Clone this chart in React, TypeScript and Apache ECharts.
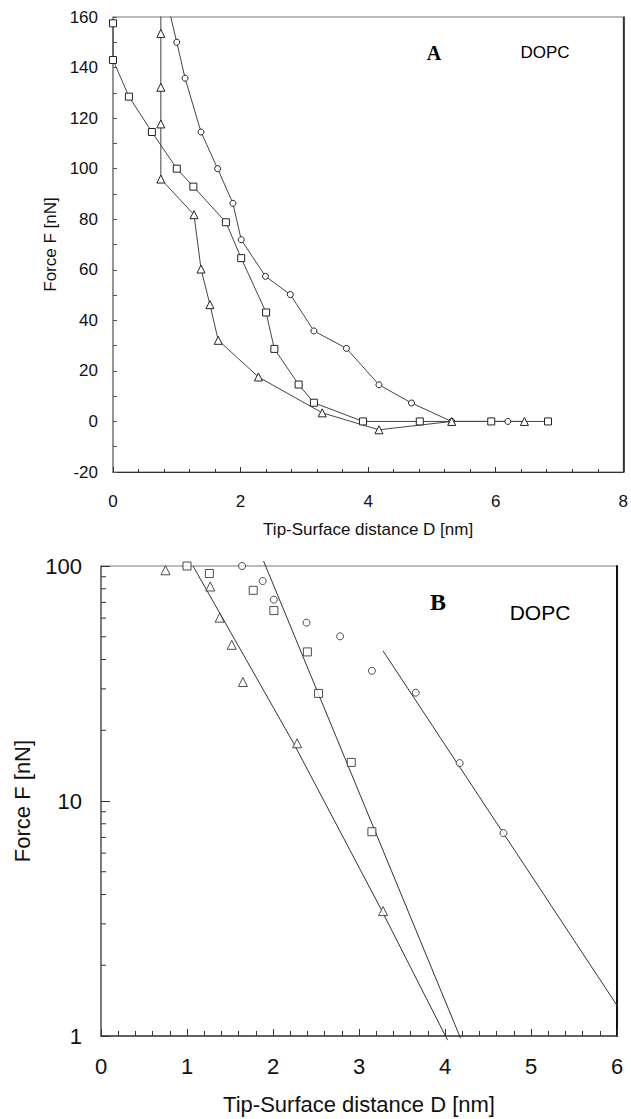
import React, { useEffect, useRef } from "react";
import * as echarts from "echarts";

// ---- Data ----
// Panel A: Force F [nN] vs tip-surface distance D [nm]
const squaresD = [0, 0, 0.25, 0.61, 1.0, 1.26, 1.77, 2.01, 2.4, 2.53, 2.91, 3.15, 3.92, 4.81, 5.93, 6.82];
const squaresF = [157.5, 143, 128.5, 114.5, 100, 92.9, 78.8, 64.6, 43.1, 28.7, 14.6, 7.4, 0, 0, 0, 0];

const circlesD = [0.84, 1.0, 1.13, 1.38, 1.64, 1.88, 2.01, 2.39, 2.78, 3.15, 3.66, 4.17, 4.68, 5.31, 6.19];
const circlesF = [167, 150, 135.8, 114.5, 100, 86.3, 71.9, 57.4, 50.2, 35.8, 28.9, 14.5, 7.3, 0, 0];

const trianglesD = [0.75, 0.75, 0.75, 0.75, 0.75, 1.27, 1.38, 1.52, 1.65, 2.28, 3.28, 4.17, 5.31, 6.45];
const trianglesF = [170, 153.5, 132.2, 117.7, 95.9, 81.8, 60.3, 46.2, 32.1, 17.6, 3.4, -3.3, 0, 0];

// Panel B: exponential fits (straight lines on the log scale)
const fitTriangleD = [1.07, 2.24, 3.25, 4.03];
const fitTriangleF = [100, 17.6, 3.5, 0.96];
const fitSquareD = [1.89, 4.18];
const fitSquareF = [105, 0.98];
const fitCircleD = [3.28, 6.06];
const fitCircleF = [43.5, 1.25];

// Log axis minor tick values
const logMinorTicks = [2, 3, 4, 5, 6, 7, 8, 9, 20, 30, 40, 50, 60, 70, 80, 90];

const SANS = "'Liberation Sans', Arial, Helvetica, sans-serif";
const SERIF = "'Liberation Serif', 'Times New Roman', serif";
const LINE = "#444";
const MARK = "#222";

const zip = (xs: number[], ys: number[]) => xs.map((x, i) => [x, ys[i]]);
const inLogRange = (pts: number[][]) => pts.filter((p) => p[1] > 0 && p[1] <= 100);

export default function App() {
  const ref = useRef<HTMLDivElement>(null);

  useEffect(() => {
    if (!ref.current) return;
    const chart = echarts.init(ref.current, null, { renderer: "svg" });

    const markerStyle = { color: "#fff", borderColor: MARK, borderWidth: 1 };

    const topLine = (name: string, data: number[][], symbol: string, size: number) => ({
      name,
      type: "line",
      xAxisIndex: 0,
      yAxisIndex: 0,
      data,
      symbol,
      symbolSize: size,
      showAllSymbol: true,
      clip: true,
      lineStyle: { color: LINE, width: 1 },
      itemStyle: markerStyle,
      z: 3,
    });

    const botScatter = (name: string, data: number[][], symbol: string, size: number) => ({
      name,
      type: "scatter",
      xAxisIndex: 1,
      yAxisIndex: 1,
      data,
      symbol,
      symbolSize: size,
      clip: false,
      itemStyle: markerStyle,
      z: 4,
    });

    const fitLine = (name: string, data: number[][]) => ({
      name,
      type: "line",
      xAxisIndex: 1,
      yAxisIndex: 1,
      data,
      symbol: "none",
      clip: false,
      lineStyle: { color: "#333", width: 1 },
      z: 3,
    });

    const option: any = {
      animation: false,
      backgroundColor: "#fff",
      grid: [
        { left: 113, top: 17, width: 513, height: 455, show: true, borderColor: "#777", borderWidth: 1 },
        { left: 101, top: 566, width: 516, height: 470, show: true, borderColor: "#777", borderWidth: 1 },
      ],
      xAxis: [
        {
          gridIndex: 0,
          type: "value",
          min: 0,
          max: 8,
          interval: 2,
          axisLine: { show: true, onZero: false, lineStyle: { color: "#333", width: 1 } },
          axisTick: { show: true, inside: true, length: 5, lineStyle: { color: "#333" } },
          minorTick: { show: true, splitNumber: 5, length: 3, lineStyle: { color: "#333" } },
          splitLine: { show: false },
          axisLabel: { margin: 21, fontSize: 17, color: "#111", fontFamily: SANS },
          name: "Tip-Surface distance D [nm]",
          nameLocation: "middle",
          nameGap: 49,
          nameTextStyle: { fontSize: 17, color: "#111", fontFamily: SANS },
        },
        {
          gridIndex: 1,
          type: "value",
          min: 0,
          max: 6,
          interval: 1,
          axisLine: { show: true, onZero: false, lineStyle: { color: "#444", width: 1.5 } },
          axisTick: { show: true, inside: true, length: 7, lineStyle: { color: "#333" } },
          minorTick: { show: true, splitNumber: 5, length: 5, lineStyle: { color: "#333" } },
          splitLine: { show: false },
          axisLabel: { margin: 19, fontSize: 22, color: "#111", fontFamily: SANS },
          name: "Tip-Surface distance D [nm]",
          nameLocation: "middle",
          nameGap: 57,
          nameTextStyle: { fontSize: 22, color: "#111", fontFamily: SANS },
        },
      ],
      yAxis: [
        {
          gridIndex: 0,
          type: "value",
          min: -20,
          max: 160,
          interval: 20,
          axisLine: { show: true, onZero: false, lineStyle: { color: "#888", width: 1.5 } },
          axisTick: { show: true, inside: true, length: 4, lineStyle: { color: "#555" } },
          minorTick: { show: true, splitNumber: 2, length: 4, lineStyle: { color: "#555" } },
          splitLine: { show: false },
          axisLabel: { margin: 15, fontSize: 17, color: "#111", fontFamily: SANS },
          name: "Force F [nN]",
          nameLocation: "middle",
          nameRotate: 90,
          nameGap: 52,
          nameTextStyle: { fontSize: 17, color: "#111", fontFamily: SANS },
        },
        {
          gridIndex: 1,
          type: "log",
          logBase: 10,
          min: 1,
          max: 100,
          axisLine: { show: true, onZero: false, lineStyle: { color: "#666", width: 1.5 } },
          axisTick: { show: true, inside: true, length: 9, lineStyle: { color: "#333" } },
          splitLine: { show: false },
          axisLabel: { margin: 19, fontSize: 22, color: "#111", fontFamily: SANS },
          name: "Force F [nN]",
          nameLocation: "middle",
          nameRotate: 90,
          nameGap: 68,
          nameTextStyle: { fontSize: 22, color: "#111", fontFamily: SANS },
        },
        {
          gridIndex: 0,
          type: "value",
          position: "right",
          min: -20,
          max: 160,
          interval: 20,
          axisLine: { show: true, onZero: false, lineStyle: { color: "#111", width: 1.5 } },
          axisTick: { show: false },
          axisLabel: { show: false },
          splitLine: { show: false },
        },
        {
          gridIndex: 1,
          type: "log",
          position: "right",
          min: 1,
          max: 100,
          axisLine: { show: true, onZero: false, lineStyle: { color: "#111", width: 2 } },
          axisTick: { show: false },
          axisLabel: { show: false },
          splitLine: { show: false },
        },
      ],
      graphic: [
        { type: "text", x: 434, y: 53, style: { text: "A", font: `bold 20px ${SERIF}`, fill: "#000", align: "center", verticalAlign: "middle" } },
        { type: "text", x: 545, y: 52, style: { text: "DOPC", font: `17px ${SANS}`, fill: "#000", align: "center", verticalAlign: "middle" } },
        { type: "text", x: 438, y: 602, style: { text: "B", font: `bold 24px ${SERIF}`, fill: "#000", align: "center", verticalAlign: "middle" } },
        { type: "text", x: 540, y: 612, style: { text: "DOPC", font: `21px ${SANS}`, fill: "#000", align: "center", verticalAlign: "middle" } },
      ],
      series: [
        topLine("squares", zip(squaresD, squaresF), "rect", 7),
        topLine("circles", zip(circlesD, circlesF), "circle", 6),
        topLine("triangles", zip(trianglesD, trianglesF), "triangle", 8),
        fitLine("fit triangles", zip(fitTriangleD, fitTriangleF)),
        fitLine("fit squares", zip(fitSquareD, fitSquareF)),
        fitLine("fit circles", zip(fitCircleD, fitCircleF)),
        botScatter("squares B", inLogRange(zip(squaresD, squaresF)), "rect", 8),
        botScatter("circles B", inLogRange(zip(circlesD, circlesF)), "circle", 7),
        botScatter("triangles B", inLogRange(zip(trianglesD, trianglesF)), "triangle", 9),
        {
          name: "log minor ticks",
          type: "custom",
          xAxisIndex: 1,
          yAxisIndex: 1,
          silent: true,
          data: logMinorTicks.map((v) => [0, v]),
          renderItem: (_params: any, api: any) => {
            const p = api.coord([api.value(0), api.value(1)]);
            return {
              type: "line",
              shape: { x1: p[0], y1: p[1], x2: p[0] + 5, y2: p[1] },
              style: { stroke: "#333", lineWidth: 1 },
            };
          },
          z: 2,
        },
      ],
    };

    chart.setOption(option);
    return () => chart.dispose();
  }, []);

  return (
    <div
      ref={ref}
      style={{ position: "absolute", left: 0, top: 0, width: 631, height: 1119, background: "#fff" }}
    />
  );
}
